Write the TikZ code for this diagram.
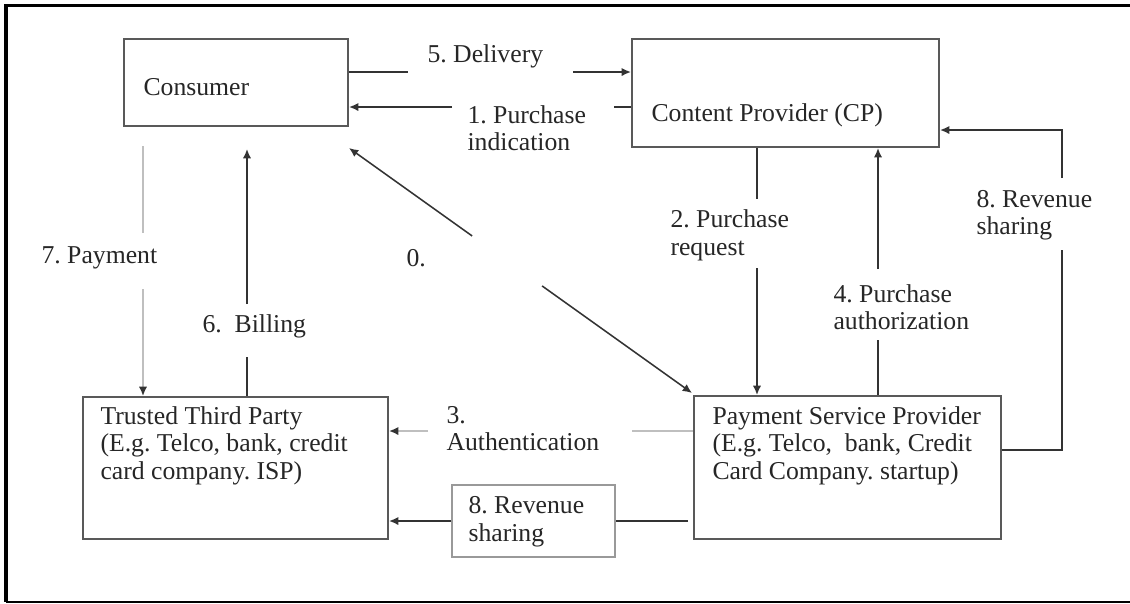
\documentclass[tikz,border=0pt]{standalone}
\usepackage{fontspec}
\setmainfont{Liberation Serif}
\usepackage{tikz}
\usetikzlibrary{arrows.meta,calc}
\usetikzlibrary{fit}
\frenchspacing

\tikzset{
  box/.style={draw=black!65, line width=0.8pt, inner sep=0pt},
  tagbox/.style={draw=black!40, line width=0.7pt, inner sep=0pt},
  txt/.style={anchor=west, align=left, inner sep=0pt, text=black!85, font=\fontsize{10pt}{10.7pt}\selectfont},
  conn/.style={draw=black!80, line width=0.6pt},
  arr/.style={conn, -{Latex[length=3.6pt,width=3.2pt]}},
  faint/.style={draw=black!25, line width=0.6pt},
  faintarr/.style={faint, -{Latex[length=3.6pt,width=3.2pt,color=black!80]}}
}

\begin{document}
\begin{tikzpicture}[x=0.389pt,y=-0.389pt]
\useasboundingbox (0,0) rectangle (1130,603);
\draw[line width=1.2pt] (1140,5.5) -- (6,5.5) -- (6,602);
\draw[line width=0.6pt] (6,602) -- (1140,602);

\node[box, fit={(124,39) (348,126)}] (cons) {};
\node[box, fit={(632,39) (939,147)}] (cp) {};
\node[box, fit={(83,397) (388,539)}] (ttp) {};
\node[box, fit={(694,396) (1001,539)}] (psp) {};
\node[tagbox, fit={(452,485) (615,557)}] (rev) {};

\node[txt] (consT) at (143,87) {Consumer};
\node[txt] (cpT) at (651,115) {Content Provider (CP)};
\node[txt] (ttpT) at (100,445.5) {Trusted Third Party\\(E.g. Telco, bank, credit\\card company. ISP)};
\node[txt] (pspT) at (712,445.5) {Payment Service Provider\\(E.g. Telco,\ \ bank, Credit\\Card Company. startup)};
\node[txt] (dlvT) at (427,56) {5. Delivery};
\node[txt] (indT) at (467,128) {1. Purchase\\indication};
\node[txt] (zeroT) at (406,258) {0.};
\node[txt] (payT) at (41,258) {7. Payment};
\node[txt] (billT) at (202,326) {6.\ \ Billing};
\node[txt] (reqT) at (670,235.5) {2. Purchase\\request};
\node[txt] (authT) at (833,307) {4. Purchase\\authorization};
\node[txt] (shareT) at (976,215) {8. Revenue\\sharing};
\node[txt] (authnT) at (446,428.5) {3.\\Authentication};
\node[txt] (revT) at (468,521.5) {8. Revenue\\sharing};

\coordinate (dlvA) at (408,72);
\coordinate (dlvB) at (573,72);
\draw[conn] (cons.east |- dlvA) -- (dlvA);
\draw[arr] (dlvB) -- (cp.west |- dlvB);

\coordinate (indA) at (452,107);
\coordinate (indB) at (614,107);
\draw[arr] (indA) -- (cons.east |- indA);
\draw[conn] (cp.west |- indB) -- (indB);

\coordinate (zeroA) at (349,148);
\coordinate (zeroB) at (692,393);
\draw[arr] ($(zeroA)!0.359!(zeroB)$) -- (zeroA);
\draw[arr] ($(zeroA)!0.563!(zeroB)$) -- (zeroB);

\coordinate (payA) at (143,146);
\coordinate (payB) at (143,233);
\coordinate (payC) at (143,289);
\draw[faint] (payA) -- (payB);
\draw[faintarr] (payC) -- (ttp.north -| payC);

\coordinate (billA) at (247,357);
\coordinate (billB) at (247,304);
\coordinate (billC) at (247,149);
\draw[conn] (ttp.north -| billA) -- (billA);
\draw[arr] (billB) -- (billC);

\coordinate (reqA) at (757,199);
\coordinate (reqB) at (757,268);
\draw[conn] (cp.south -| reqA) -- (reqA);
\draw[arr] (reqB) -- (psp.north -| reqB);

\coordinate (authA) at (878,340);
\coordinate (authB) at (878,269);
\draw[conn] (psp.north -| authA) -- (authA);
\draw[arr] (authB) -- (cp.south -| authB);

\coordinate (shareA) at (1062,250);
\coordinate (shareB) at (1062,178);
\coordinate (shareC) at (1062,450);
\coordinate (shareD) at (1062,130);
\draw[conn] (psp.east |- shareC) -- (shareC) -- (shareA);
\draw[arr] (shareB) -- (shareD) -- (cp.east |- shareD);

\coordinate (authnA) at (632,431);
\coordinate (authnB) at (428,431);
\draw[faint] (psp.west |- authnA) -- (authnA);
\draw[faintarr] (authnB) -- (ttp.east |- authnB);

\coordinate (revA) at (688,521);
\draw[arr] (rev.west) -- (ttp.east |- rev.west);
\draw[conn] (revA) -- (rev.east);
\end{tikzpicture}
\end{document}
